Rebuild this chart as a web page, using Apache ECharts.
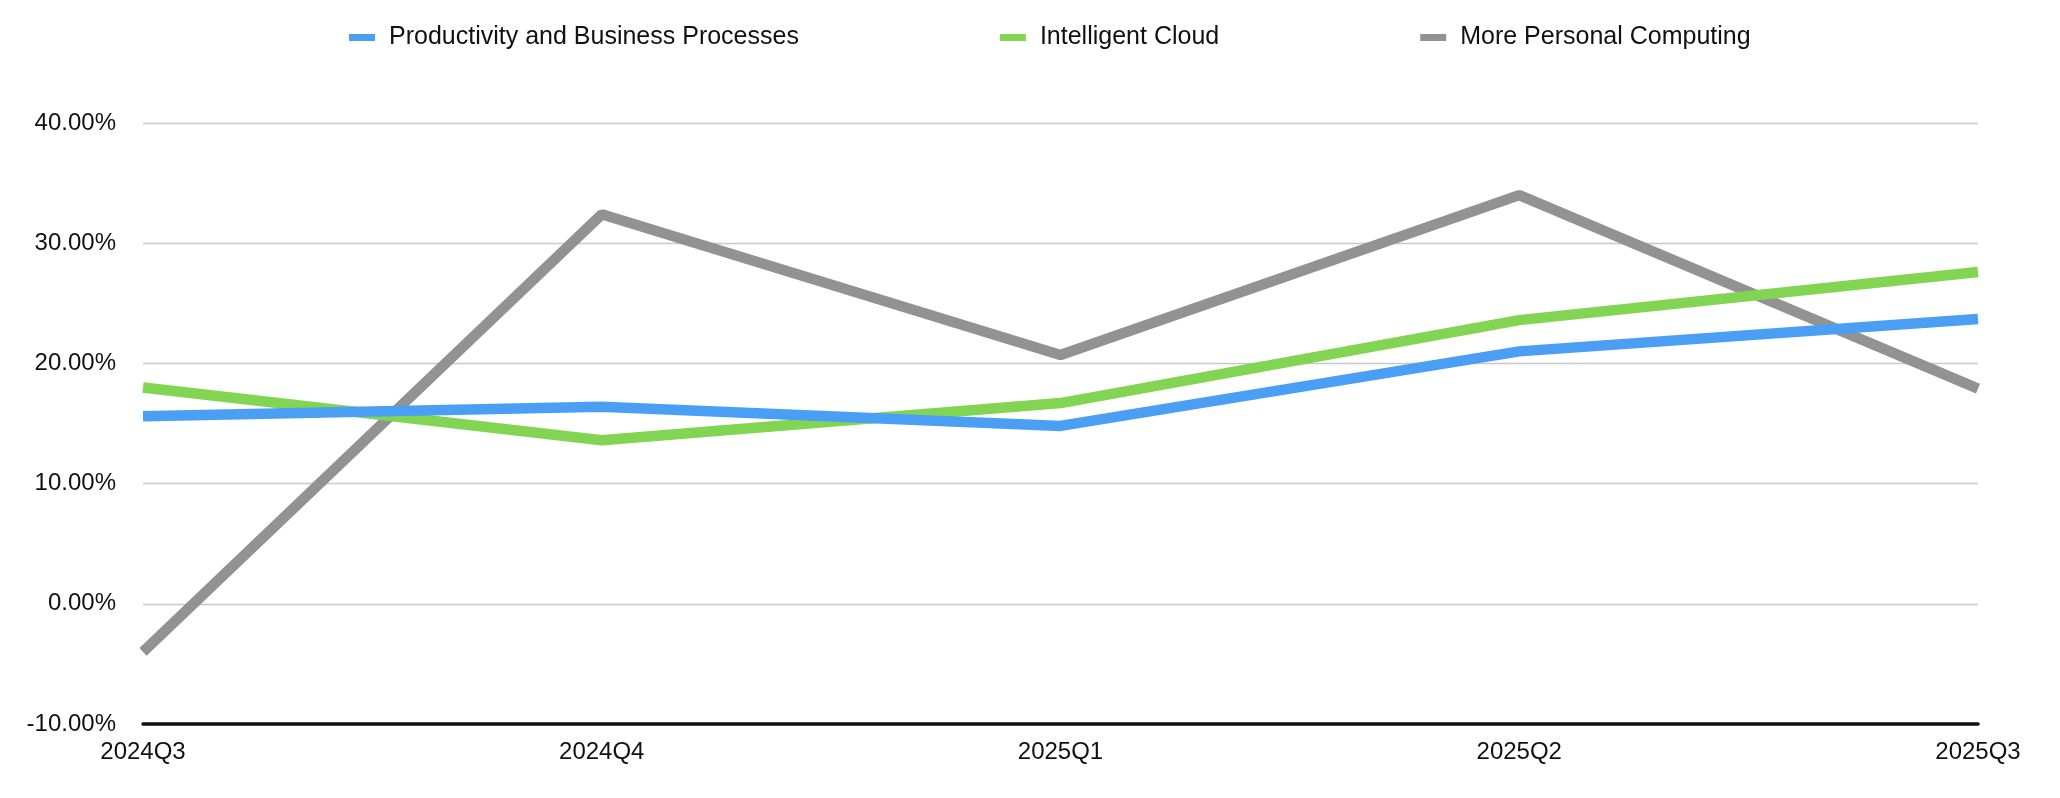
<!DOCTYPE html>
<html><head><meta charset="utf-8">
<script src="https://cdn.jsdelivr.net/npm/echarts@6/dist/echarts.min.js"></script>
<style>html,body{margin:0;padding:0;background:#fff}#c{width:2060px;height:798px}</style>
</head><body><div id="c"></div>
<script>
const categories = ['2024Q3','2024Q4','2025Q1','2025Q2','2025Q3'];
const seriesNames = ['Productivity and Business Processes','Intelligent Cloud','More Personal Computing'];
const productivity = [15.6, 16.4, 14.8, 21.0, 23.7];
const cloud = [18.0, 13.6, 16.7, 23.6, 27.6];
const personal = [-4.0, 32.4, 20.7, 34.0, 17.9];
const colors = ['#4A9FF5','#82D552','#929292'];

const chart = echarts.init(document.getElementById('c'));
const font = 'Liberation Sans, Helvetica, Arial, sans-serif';
chart.setOption({
  animation:false,
  color: colors,
  textStyle:{fontFamily:font},
  legend:{
    top: 20, left: 344,
    itemWidth: 26, itemHeight: 7, itemGap: 201,
    icon:'rect',
    textStyle:{fontSize:25, color:'#111', fontFamily:font, padding:[0,0,0,9]},
    data: seriesNames
  },
  grid:{left:143, right:82, top:123, bottom:74, containLabel:false},
  xAxis:{
    type:'category', data:categories, boundaryGap:false,
    axisLine:{show:true, onZero:false, lineStyle:{color:'#111', width:3.5}},
    axisTick:{show:false},
    axisLabel:{fontSize:24, color:'#111', margin:16, fontFamily:font},
    splitLine:{show:false}
  },
  yAxis:{
    type:'value', min:-10, max:40, interval:10,
    axisLine:{show:false}, axisTick:{show:false},
    axisLabel:{fontSize:24, color:'#111', margin:27, fontFamily:font,
      formatter: v => v.toFixed(2)+'%'},
    splitLine:{lineStyle:{color:'#c8c8c8', width:1.3}}
  },
  series:[
    {name:seriesNames[0], type:'line', data:productivity, symbol:'none', lineStyle:{width:10.5}, z:3},
    {name:seriesNames[1], type:'line', data:cloud, symbol:'none', lineStyle:{width:10.5}, z:2},
    {name:seriesNames[2], type:'line', data:personal, symbol:'none', lineStyle:{width:10.5}, z:1}
  ]
});
</script></body></html>
